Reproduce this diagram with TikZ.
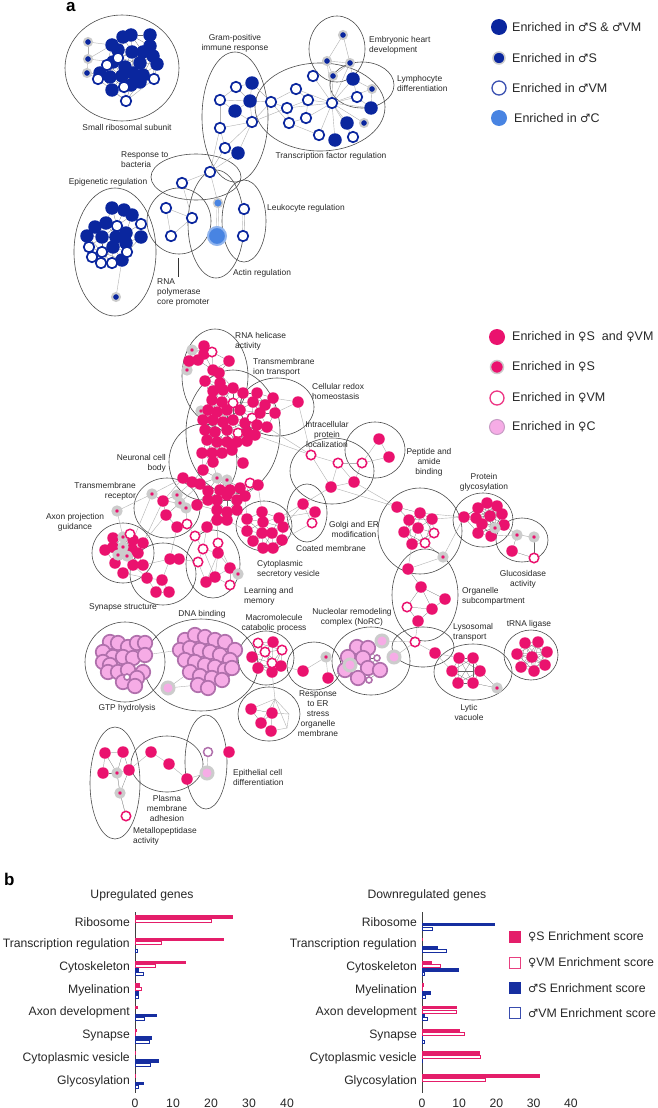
\documentclass[tikz,border=0pt]{standalone}
\usepackage{fontspec}
\setmainfont{Liberation Sans}
\newfontfamily\symfont{DejaVu Sans}[Scale=0.92]
\newcommand\symM{{\symfont ♂}}
\newcommand\symF{{\symfont ♀}}
\pgfdeclarelayer{bg}
\pgfsetlayers{bg,main}
\definecolor{blueD}{RGB}{10,38,158}
\definecolor{blueL}{RGB}{72,132,226}
\definecolor{pinkF}{RGB}{234,18,110}
\definecolor{pinkL}{RGB}{246,172,230}
\definecolor{purp}{RGB}{176,112,172}
\definecolor{halo}{RGB}{204,204,204}
\definecolor{barP}{RGB}{228,30,106}
\definecolor{barB}{RGB}{22,46,160}
\definecolor{txt}{RGB}{40,40,40}
\tikzset{
 nd/.style={circle,inner sep=0pt,outer sep=0pt},
 bf/.style={nd,fill=blueD,minimum size=13.5pt},
 bh/.style={nd,draw=blueD,fill=white,line width=1.7pt,minimum size=10.5pt},
 bs/.style={nd,fill=blueD,draw=halo,line width=2pt,minimum size=8pt},
 pf/.style={nd,fill=pinkF,minimum size=11.5pt},
 ph/.style={nd,draw=pinkF,fill=white,line width=1.5pt,minimum size=9.5pt},
 ps/.style={nd,fill=pinkF,draw=halo,line width=3.6pt,minimum size=7.5pt},
 pc/.style={nd,fill=pinkL,draw=purp,line width=1.7pt,minimum size=14.5pt},
 pcw/.style={nd,fill=white,draw=purp,line width=1.6pt,minimum size=6pt},
 pch/.style={nd,fill=pinkL,draw=halo,line width=3pt,minimum size=12pt},
 pvh/.style={nd,fill=white,draw=purp,line width=1.5pt,minimum size=9pt},
 ell/.style={draw=black!70,line width=0.6pt},
 hair/.style={draw=black!60,line width=0.22pt},
 edge/.style={draw=black!30,line width=0.4pt},
 lab/.style={font=\fontsize{8.4}{10}\selectfont,text=txt,inner sep=0pt,align=center},
 leg/.style={font=\fontsize{12.5}{14}\selectfont,text=txt,inner sep=0pt,anchor=west},
 catlab/.style={font=\fontsize{12.2}{14}\selectfont,text=txt,inner sep=0pt,anchor=east},
 ticklab/.style={font=\fontsize{12.2}{14}\selectfont,text=txt,inner sep=0pt},
 panel/.style={font=\fontsize{17}{17}\bfseries\selectfont,inner sep=0pt,anchor=base west},
}
\newcommand\mkcluster[3]{%
  \foreach [count=\i] \x/\y/\tp in {#2}{\node[\tp] (#1\i) at (\x,\y) {};}%
  \begin{pgfonlayer}{bg}%
  \foreach [count=\i] \xa/\ya/\ta in {#2}{%
    \foreach [count=\j] \xb/\yb/\tb in {#2}{%
      \ifnum\j>\i\relax
        \pgfmathtruncatemacro\mydd{veclen(\xa-\xb,\ya-\yb)}%
        \ifnum\mydd<#3\relax \draw[hair] (#1\i)--(#1\j);\fi
      \fi}}%
  \end{pgfonlayer}%
}
\newcommand\barrow[7]{%
  \ifdim #4pt>0pt \fill[barP] ({#1},{#3-6.9}) rectangle ({#1+#4*#2},{#3-3.4});\fi
  \ifdim #5pt>0pt \draw[barP,line width=0.7pt,fill=white] ({#1},{#3-2.9}) rectangle ({#1+#5*#2},{#3+0.1});\fi
  \ifdim #6pt>0pt \fill[barB] ({#1},{#3+0.9}) rectangle ({#1+#6*#2},{#3+4.4});\fi
  \ifdim #7pt>0pt \draw[barB,line width=0.7pt,fill=white] ({#1},{#3+4.9}) rectangle ({#1+#7*#2},{#3+7.9});\fi
}
\begin{document}
\begin{tikzpicture}[x=1pt,y=-1pt]
\useasboundingbox (0,0) rectangle (658,1108);
\begin{pgfonlayer}{bg}
\fill[white] (0,0) rectangle (658,1108);
% top ellipses
\draw[ell] (122,68) ellipse [x radius=57,y radius=53];
\draw[ell] (235,117) ellipse [x radius=33,y radius=65];
\draw[ell] (320,107) ellipse [x radius=65,y radius=44];
\draw[ell] (337,49) ellipse [x radius=28,y radius=33];
\draw[ell] (362,85) ellipse [x radius=32,y radius=23];
\draw[ell] (196,177) ellipse [x radius=45,y radius=23];
\draw[ell] (115,252) ellipse [x radius=41,y radius=64];
\draw[ell] (179,221) ellipse [x radius=32,y radius=33];
\draw[ell] (216,224) ellipse [x radius=28,y radius=54];
\draw[ell] (244,221) ellipse [x radius=22,y radius=41];
% pink ellipses
\draw[ell] (215,376) ellipse [x radius=33,y radius=47];
\draw[ell] (233,432) ellipse [x radius=47,y radius=62];
\draw[ell] (277,407) ellipse [x radius=37,y radius=29];
\draw[ell] (203,462) ellipse [x radius=34,y radius=38];
\draw[ell] (167,508) ellipse [x radius=33,y radius=30];
\draw[ell] (123,553) ellipse [x radius=31,y radius=30];
\draw[ell] (163,574) ellipse [x radius=33,y radius=31];
\draw[ell] (213,564) ellipse [x radius=27,y radius=34];
\draw[ell] (264,526) ellipse [x radius=28,y radius=25];
\draw[ell] (307,513) ellipse [x radius=20,y radius=29];
\draw[ell] (420,531) ellipse [x radius=42,y radius=43];
\draw[ell] (332,471) ellipse [x radius=42,y radius=33];
\draw[ell] (375,450) ellipse [x radius=30,y radius=28];
\draw[ell] (483,520) ellipse [x radius=30,y radius=27];
\draw[ell] (522,540) ellipse [x radius=26,y radius=22];
\draw[ell] (425,595) ellipse [x radius=33,y radius=46];
\draw[ell] (423,647) ellipse [x radius=31,y radius=20];
\draw[ell] (473,672) ellipse [x radius=39,y radius=28];
\draw[ell] (531,655) ellipse [x radius=27,y radius=25];
\draw[ell] (371,661) ellipse [x radius=39,y radius=34];
\draw[ell] (314,666) ellipse [x radius=27,y radius=24];
\draw[ell] (269,714) ellipse [x radius=31,y radius=27];
\draw[ell] (266,658) ellipse [x radius=28,y radius=27];
\draw[ell] (201,665) ellipse [x radius=57,y radius=46];
\draw[ell] (125,662) ellipse [x radius=40,y radius=40];
\draw[ell] (115,783) ellipse [x radius=25,y radius=56];
\draw[ell] (167,764) ellipse [x radius=36,y radius=28];
\draw[ell] (206,762) ellipse [x radius=21,y radius=47];
\end{pgfonlayer}

\node[panel] (panelA) at (66,12) {a};
\node[panel] (panelB) at (4,885) {b};

% ===== top network =====
\mkcluster{sr}{112/45/bf,123/37/bf,131/35/bf,150/35/bf,150/46/bf,118/50/bf,132/52/bf,143/52/bf,153/56/bf,157/64/bf,113/62/bf,125/67/bf,140/63/bf,100/73/bf,110/77/bf,122/76/bf,133/73/bf,143/75/bf,112/90/bf,131/85/bf,140/82/bf,118/58/bh,107/65/bh,98/79/bh,154/79/bh,124/87/bh,126/101/bh}{24}
\node[bs] (sb1) at (88,42) {};
\node[bs] (sb2) at (88,59) {};
\node[bs] (sb3) at (87,73) {};
\mkcluster{ep}{112/208/bf,124/210/bf,132/215/bf,106/223/bf,95/227/bf,87/236/bf,102/237/bf,116/237/bf,126/233/bf,141/237/bf,113/247/bf,126/243/bf,122/260/bf,141/224/bh,117/226/bh,89/247/bh,102/252/bh,127/252/bh,92/257/bh,101/263/bh,112/263/bh}{22}
\node[bs] (epx) at (116,297) {};
\mkcluster{gp}{236/87/bh,252/83/bf,220/100/bh,250/101/bf,235/111/bf,252/122/bh,220/128/bh,225/148/bh,238/153/bf}{0}
\mkcluster{tf}{271/102/bh,296/89/bh,287/108/bh,308/100/bh,289/123/bh,306/118/bh,313/76/bh,332/103/bh,319/135/bh,335/140/bf,353/137/bh,347/123/bf,364/123/bs,371/108/bf,357/97/bh,353/79/bf,372/89/bs}{0}
\mkcluster{eh}{343/35/bs,327/61/bs,350/63/bs,333/76/bs}{0}
\mkcluster{rb}{182/183/bh,210/172/bh}{0}
\mkcluster{rp}{166/208/bh,192/218/bh,171/236/bh}{0}
\node[nd,fill=blueL,draw=halo,line width=1.5pt,minimum size=9pt] (ac1) at (218,203) {};
\node[nd,fill=blueL,draw=blueL!60!white,line width=2pt,minimum size=18pt] (ac2) at (217,236) {};
\node[bh] (lk1) at (244,209) {};
\node[bh] (lk2) at (243,236) {};
\begin{pgfonlayer}{bg}
\foreach \a/\b in {gp1/gp2,gp1/gp3,gp1/gp4,gp2/gp4,gp3/gp4,gp3/gp5,gp4/gp5,gp4/gp6,gp5/gp6,gp3/gp7,gp6/gp7,gp6/gp8,gp7/gp8,gp6/gp9,gp8/gp9,gp4/tf1,gp2/tf1,gp6/tf1,gp6/tf3,gp8/rb2,gp9/rb2,gp7/rb2,tf1/tf3,tf1/tf2,tf2/tf4,tf3/tf4,tf3/tf5,tf4/tf6,tf5/tf6,tf4/tf8,tf6/tf8,tf2/tf8,tf3/tf8,tf7/tf8,tf8/tf9,tf8/tf10,tf8/tf11,tf8/tf12,tf8/tf13,tf8/tf14,tf8/tf15,tf8/tf16,tf8/tf17,tf8/eh4,tf8/eh3,tf8/eh2,tf16/tf15,tf15/tf14,tf5/tf9,tf1/tf5,eh1/eh2,eh1/eh3,eh2/eh3,eh2/eh4,eh3/eh4,eh3/tf16,tf16/tf17,tf14/tf17,rb1/rb2,rb2/ac1,rp1/rp2,rp1/rp3,rp2/rp3,rp2/rb1,sb1/sb2,sb2/sb3,sb1/sr1,sb2/sr1,sb2/sr11,sb3/sr14,sb3/sr24,sr27/sr19,sr27/sr25,ep13/epx}
  \draw[edge] (\a)--(\b);
\draw[edge,double distance=1.3pt] (ac1)--(ac2);
\draw[edge,double distance=1.3pt] (lk1)--(lk2);
\end{pgfonlayer}
\coordinate (rpA) at (178,258);
\coordinate (rpB) at (178,277);
\draw[black!80,line width=0.9pt] (rpA)--(rpB);

\node[lab] (Lsr) at (127,127) {Small ribosomal subunit};
\node[lab] (Lgp) at (235,43) {Gram-positive\\immune response};
\node[lab,align=left,anchor=west] (Leh) at (369,45) {Embryonic heart\\development};
\node[lab,align=left,anchor=west] (Lly) at (397,83) {Lymphocyte\\differentiation};
\node[lab] (Ltf) at (331,156) {Transcription factor regulation};
\node[lab,align=left,anchor=west] (Lrb) at (121,160) {Response to\\bacteria};
\node[lab] (Lep) at (108,182) {Epigenetic regulation};
\node[lab,anchor=west] (Llk) at (267,208) {Leukocyte regulation};
\node[lab] (Lac) at (262,273) {Actin regulation};
\node[lab,align=left,anchor=north west] (Lrp) at (157,279) {RNA\\polymerase\\core promoter};

% top legend
\node[nd,fill=blueD,minimum size=16pt] (k1) at (499,27) {};
\node[nd,fill=blueD,draw=halo,line width=1.5pt,minimum size=12pt] (k2) at (499,58) {};
\node[nd,draw=blueD!80!white,fill=white,line width=1.3pt,minimum size=14pt] (k3) at (499,88) {};
\node[nd,fill=blueL,minimum size=16pt] (k4) at (499,118) {};
\node[leg] (kt1) at (512,27) {Enriched in \symM S \& \symM VM};
\node[leg] (kt2) at (512,58) {Enriched in \symM S};
\node[leg] (kt3) at (512,88) {Enriched in \symM VM};
\node[leg] (kt4) at (514,118) {Enriched in \symM C};

% ===== pink network =====
\mkcluster{m}{192/350/ps,204/346/pf,204/354/pf,212/352/ph,187/370/ps,189/361/pf,198/360/pf,229/361/pf,213/370/pf,219/373/pf,205/381/pf,220/383/pf,213/391/pf,223/390/pf,233/388/pf,243/393/pf,257/393/pf,273/398/pf,212/400/pf,222/402/pf,233/403/ph,253/402/pf,265/405/pf,275/413/pf,201/411/ps,208/410/pf,217/412/pf,227/410/pf,240/410/pf,260/413/pf,203/420/pf,213/420/pf,223/422/pf,233/420/pf,245/423/pf,252/418/ph,257/425/pf,267/427/pf,205/430/pf,215/432/pf,227/430/pf,238/433/ph,247/432/pf,255/435/pf,207/440/pf,217/442/pf,227/442/pf,237/442/pf,247/441/pf,202/453/pf,212/453/pf,222/453/pf,232/450/pf,243/463/pf,213/462/pf,203/470/pf,183/478/pf,192/482/pf,200/484/pf,217/478/ps,227/480/ps,208/491/pf,220/490/pf,230/490/pf,240/488/pf,250/483/ph,258/485/pf,208/500/pf,217/500/pf,227/495/pf,237/500/pf,245/496/pf,197/505/pf,217/510/pf,227/512/pf,237/510/pf,217/520/pf,207/527/pf,227/520/pf,298/402/pf}{21}
\mkcluster{tr}{152/494/ps,177/495/ps,180/503/ps,186/508/ps,163/501/pf,166/515/pf,177/527/pf,187/524/ph,117/511/ps}{20}
\mkcluster{ax}{113/538/pf,123/537/ps,133/540/pf,143/543/pf,105/550/pf,113/547/pf,132/549/pf,138/553/pf,115/563/pf,133/565/pf,143/565/pf,123/573/pf,123/547/ps,118/555/ps,127/556/ps,130/534/ph}{17}
\mkcluster{sy}{170/559/pf,179/559/pf,147/578/pf,162/580/pf,156/592/pf,169/592/pf}{0}
\mkcluster{lm}{203/549/ph,218/543/ph,198/562/ph,230/585/ph,218/553/pf,230/568/pf,215/577/pf,206/582/pf,238/574/ps,195/536/ph}{0}
\mkcluster{cv}{262/512/pf,247/519/pf,263/522/pf,279/518/pf,247/531/pf,262/533/pf,272/533/pf,283/527/pf,253/541/pf,263/548/pf,273/548/pf,282/540/pf}{22}
\mkcluster{cm}{303/504/pf,315/512/pf,312/523/ph}{0}
\mkcluster{ip}{311/455/ph,338/463/ph,362/463/ph,331/487/pf,354/482/pf}{0}
\mkcluster{pa}{379/439/pf,389/457/pf}{0}
\mkcluster{go}{397/507/pf,420/513/pf,432/519/pf,409/520/pf,418/528/pf,404/532/pf,412/544/pf,434/533/ph,425/543/ph,443/557/ps}{25}
\mkcluster{pg}{464/517/pf,478/508/pf,487/503/pf,497/506/pf,476/518/pf,490/516/pf,502/514/pf,504/525/pf,482/524/pf,478/533/pf,491/536/pf,495/528/ps}{30}
\mkcluster{gl}{517/535/ps,534/537/ps,512/551/pf,534/558/ph}{25}
\mkcluster{os}{408/569/pf,421/587/pf,445/599/pf,432/609/pf,418/621/pf,407/607/ph}{30}
\mkcluster{ly}{415/642/ph,435/653/pf}{0}
\mkcluster{lv}{459/658/pf,473/658/pf,452/671/pf,480/671/pf,458/683/pf,473/683/pf,497/688/ps}{32}
\mkcluster{tl}{525/643/pf,538/642/pf,517/654/pf,547/652/pf,532/657/pf,521/667/pf,545/665/pf,534/671/pf}{35}
\mkcluster{no}{357/647/pc,368/648/pc,348/657/pc,363/658/pc,345/670/pc,368/668/pc,380/670/pc,358/678/pc,350/665/pch,377/658/pcw,369/680/pcw,382/641/pch,394/657/pch}{15}
\mkcluster{er}{326/657/ps,303/671/pf,328/678/pf}{0}
\mkcluster{om}{251/709/pf,272/713/pf,261/723/pf,271/731/pf}{25}
\mkcluster{mc}{273/642/pf,252/657/pf,258/668/pf,272/672/pf,281/666/pf,258/643/ph,265/652/ph,282/650/ph,272/663/ph}{25}
\mkcluster{gt}{110/642/pc,118/643/pc,128/647/pc,137/643/pc,145/643/pc,103/652/pc,113/657/pc,123/657/pc,133/658/pc,145/655/pc,103/662/pc,110/665/pc,108/672/pc,118/672/pc,128/670/pc,143/672/pc,137/678/pc,123/682/pc,135/686/pc,127/677/pcw}{12}
\mkcluster{dn}{185/640/pc,195/635/pc,205/637/pc,215/640/pc,225/642/pc,235/650/pc,180/650/pc,190/648/pc,200/650/pc,210/652/pc,220/655/pc,230/660/pc,185/660/pc,195/662/pc,205/665/pc,215/667/pc,225/670/pc,190/672/pc,200/676/pc,212/678/pc,222/680/pc,198/685/pc,208/688/pc,232/668/pc,168/688/pch}{12}
\mkcluster{mp}{105/753/pf,123/752/pf,103/773/pf,117/773/ps,129/770/pf,120/793/ps,126/816/ph}{25}
\mkcluster{pm}{151/752/pf,169/764/pf,187/779/pf}{0}
\mkcluster{ec}{208/752/pvh,229/752/pf,207/773/pch}{0}
\coordinate (omA) at (275,699);
\coordinate (omB) at (289,714);
\coordinate (omC) at (287,728);
\begin{pgfonlayer}{bg}
\foreach \a/\b in {m24/m80,m18/m80,m44/ip1,m38/ip1,m80/ip1,ip1/ip2,ip2/ip3,ip1/ip4,ip2/ip4,ip4/ip5,ip5/ip3,ip2/ip5,ip3/pa1,pa1/pa2,pa2/ip3,ip4/cm1,ip5/go1,ip4/go1,cm1/cm2,cm1/cm3,cm2/cm3,cv8/cm1,cv12/cm3,cv4/cm2,cv4/cm1,m67/cv1,m72/cv2,m79/cv5,m76/cv2,go3/pg1,go10/pg1,go2/pg1,pg8/gl1,pg11/gl1,go10/os1,go7/os1,os5/ly1,ly1/ly2,ly2/lv3,ly2/lv1,no13/ly1,no12/ly1,er1/er2,er1/er3,er2/mc5,er3/no5,mc4/omA,omA/om1,omA/om2,omA/om3,omA/omB,omA/omC,om2/omB,om4/omC,omB/omC,gt10/dn7,dn25/dn18,dn25/dn22,m57/tr1,m58/tr2,m57/tr5,m73/tr4,m59/tr3,tr9/ax2,tr1/ax3,tr5/ax4,tr6/ax4,tr7/sy1,tr8/lm10,tr1/tr9,ax11/sy1,ax10/sy3,ax12/sy3,sy1/sy2,sy1/sy4,sy3/sy4,sy3/sy5,sy4/sy6,sy5/sy6,sy4/sy5,sy2/lm3,lm1/lm5,lm2/lm5,lm5/lm6,lm5/lm7,lm6/lm7,lm7/lm8,lm3/lm8,lm6/lm9,lm4/lm6,lm4/lm7,lm1/lm3,lm2/m77,lm1/m78,lm10/m78,lm5/m77,lm5/lm8,lm1/lm7,lm2/lm6,lm10/lm1,mp5/pm1,pm1/pm2,pm2/pm3,pm3/ec3,ec1/ec3,mp4/mp6,mp6/mp7}
  \draw[edge] (\a)--(\b);
\end{pgfonlayer}

\node[lab,align=left,anchor=west] (Lrh) at (235,341) {RNA helicase\\activity};
\node[lab,align=left,anchor=west] (Lti) at (253,367) {Transmembrane\\ion transport};
\node[lab,align=left,anchor=west] (Lcr) at (312,391) {Cellular redox\\homeostasis};
\node[lab] (Lip) at (327,434) {Intracellular\\protein\\localization};
\node[lab] (Lpa) at (429,462) {Peptide and\\amide\\binding};
\node[lab,align=right,anchor=east] (Lnc) at (166,463) {Neuronal cell\\body};
\node[lab,align=right,anchor=east] (Ltr) at (136,491) {Transmembrane\\receptor};
\node[lab] (Lax) at (75,522) {Axon projection\\guidance};
\node[lab] (Lpg) at (484,482) {Protein\\glycosylation};
\node[lab] (Lgo) at (354,529) {Golgi and ER\\modification};
\node[lab] (Lcm) at (331,548) {Coated membrane};
\node[lab] (Lgl) at (523,579) {Glucosidase\\activity};
\node[lab,align=left,anchor=west] (Lcv) at (257,569) {Cytoplasmic\\secretory vesicle};
\node[lab,align=left,anchor=west] (Los) at (462,596) {Organelle\\subcompartment};
\node[lab,align=left,anchor=west] (Llm) at (244,596) {Learning and\\memory};
\node[lab] (Lsy) at (123,607) {Synapse structure};
\node[lab] (Ldn) at (202,614) {DNA binding};
\node[lab] (Lmc) at (274,623) {Macromolecule\\catabolic process};
\node[lab] (Lno) at (352,617) {Nucleolar remodeling\\complex (NoRC)};
\node[lab,align=left,anchor=west] (Lly2) at (453,632) {Lysosomal\\transport};
\node[lab] (Ltl) at (529,624) {tRNA ligase};
\node[lab] (Lgt) at (127,708) {GTP hydrolysis};
\node[lab] (Llv) at (469,712) {Lytic\\vacuole};
\node[lab] (Ler) at (318,714) {Response\\to ER\\stress\\organelle\\membrane};
\node[lab,align=left,anchor=west] (Lec) at (233,777) {Epithelial cell\\differentiation};
\node[lab] (Lpm) at (167,808) {Plasma\\membrane\\adhesion};
\node[lab,align=left,anchor=west] (Lmp) at (133,836) {Metallopeptidase\\activity};

% pink legend
\node[nd,fill=pinkF,minimum size=16pt] (q1) at (497,337) {};
\node[nd,fill=pinkF,draw=halo,line width=1.5pt,minimum size=13pt] (q2) at (497,367) {};
\node[nd,draw=pinkF!85!white,fill=white,line width=1.3pt,minimum size=14pt] (q3) at (497,398) {};
\node[nd,fill=pinkL,draw=purp!70!white,line width=1pt,minimum size=15pt] (q4) at (497,427) {};
\node[leg] (qt1) at (512,337) {Enriched in \symF S\ \ and \symF VM};
\node[leg] (qt2) at (512,367) {Enriched in \symF S};
\node[leg] (qt3) at (512,398) {Enriched in \symF VM};
\node[leg] (qt4) at (512,427) {Enriched in \symF C};

% ===== bar charts =====
\node[ticklab] (tu) at (142,895) {Upregulated genes};
\node[ticklab] (td) at (427,895) {Downregulated genes};
\coordinate (uA) at (135,912); \coordinate (uB) at (135,1093);
\coordinate (dA) at (422,912); \coordinate (dB) at (422,1093);
\draw[black!75,line width=0.8pt] (uA)--(uB);
\draw[black!75,line width=0.8pt] (dA)--(dB);
\foreach [count=\k] \lab/\a/\b/\c/\d in {Ribosome/25.8/20.0/0/0,Transcription regulation/23.5/6.9/0/0.6,Cytoskeleton/13.5/5.4/1.0/2.3,Myelination/1.3/1.7/1.0/0.8,Axon development/0.7/0/5.7/2.5,Synapse/0.4/0.2/4.6/3.7,Cytoplasmic vesicle/0.2/0/6.3/4.1,Glycosylation/0.1/0/2.3/1.0}{
  \pgfmathsetmacro\cy{922+(\k-1)*22.7}
  \node[catlab] (uc\k) at (130,\cy) {\lab};
  \barrow{135}{3.8}{\cy}{\a}{\b}{\c}{\d}
}
\foreach [count=\k] \lab/\a/\b/\c/\d in {Ribosome/0/0/19.6/2.7,Transcription regulation/0.3/0/4.3/6.6,Cytoskeleton/2.7/4.8/9.9/0.5,Myelination/0.5/0.2/2.5/1.0,Axon development/9.5/9.1/0.7/1.4,Synapse/10.2/11.4/0.2/0.5,Cytoplasmic vesicle/15.6/15.8/0.2/0,Glycosylation/31.6/17.0/0/0}{
  \pgfmathsetmacro\cy{922+(\k-1)*22.7}
  \node[catlab] (dc\k) at (417,\cy) {\lab};
  \barrow{422}{3.72}{\cy}{\a}{\b}{\c}{\d}
}
\foreach \v in {0,10,20,30,40}{
  \node[ticklab] (ut\v) at ({135+\v*3.8},1103) {\v};
  \node[ticklab] (dt\v) at ({422+\v*3.72},1103) {\v};
}
% bar legend
\node[nd,rectangle,fill=barP,minimum size=12pt] (s1) at (515,937) {};
\node[nd,rectangle,draw=barP!85!white,fill=white,line width=1.4pt,minimum size=10.5pt] (s2) at (515,963) {};
\node[nd,rectangle,fill=barB,minimum size=12pt] (s3) at (515,988) {};
\node[nd,rectangle,draw=barB!85!white,fill=white,line width=1.4pt,minimum size=10.5pt] (s4) at (515,1013) {};
\node[leg,font=\fontsize{12.3}{14}\selectfont] (st1) at (528,937) {\symF S Enrichment score};
\node[leg,font=\fontsize{12.3}{14}\selectfont] (st2) at (528,963) {\symF VM Enrichment score};
\node[leg,font=\fontsize{12.3}{14}\selectfont] (st3) at (528,988) {\symM S Enrichment score};
\node[leg,font=\fontsize{12.3}{14}\selectfont] (st4) at (528,1013) {\symM VM Enrichment score};
\end{tikzpicture}
\end{document}
